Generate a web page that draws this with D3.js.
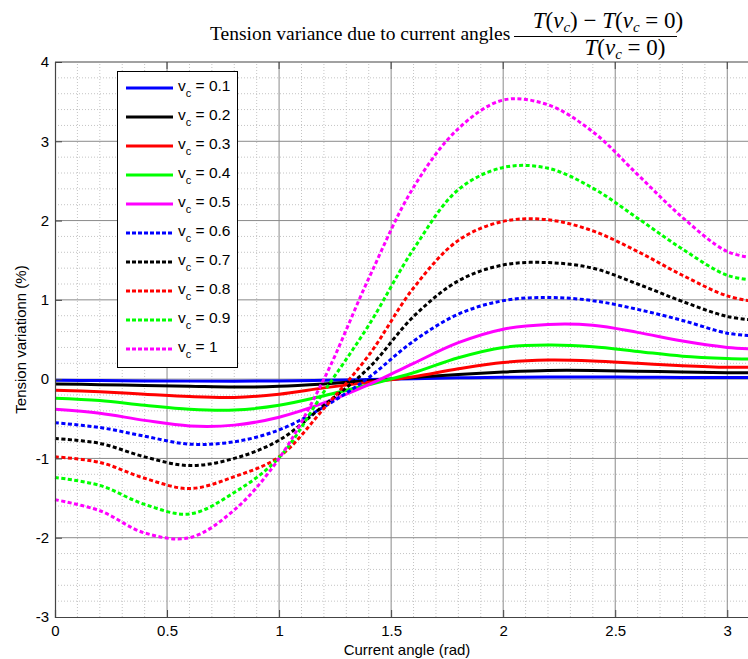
<!DOCTYPE html>
<html>
<head>
<meta charset="utf-8">
<script src="https://cdn.jsdelivr.net/npm/d3@7"></script>
<style>
  body { margin: 0; background: #fff; }
</style>
</head>
<body>
<div id="chart"></div>
<script>
// angles (rad)
const angles = [0, 0.2, 0.4, 0.6, 0.8, 1.0, 1.2, 1.4, 1.6, 1.8, 2.0, 2.2, 2.4, 2.6, 2.8, 3.0, 3.1416];

// tension variation (%) per current speed
const vc01 = [-0.015, -0.018, -0.022, -0.025, -0.026, -0.022, -0.015, -0.005, 0.006, 0.016, 0.023, 0.027, 0.027, 0.025, 0.022, 0.02, 0.02];
const vc02 = [-0.06, -0.07, -0.08, -0.09, -0.10, -0.09, -0.06, -0.02, 0.02, 0.06, 0.09, 0.11, 0.11, 0.10, 0.09, 0.08, 0.08];
const vc03 = [-0.14, -0.16, -0.19, -0.22, -0.23, -0.19, -0.11, -0.04, 0.03, 0.13, 0.21, 0.24, 0.23, 0.20, 0.17, 0.15, 0.15];
const vc04 = [-0.24, -0.27, -0.33, -0.38, -0.39, -0.33, -0.21, -0.07, 0.08, 0.27, 0.40, 0.43, 0.41, 0.35, 0.29, 0.26, 0.25];
const vc05 = [-0.38, -0.43, -0.52, -0.59, -0.58, -0.48, -0.30, -0.07, 0.20, 0.46, 0.63, 0.69, 0.68, 0.59, 0.48, 0.40, 0.38];
const vc06 = [-0.55, -0.61, -0.72, -0.82, -0.79, -0.64, -0.35, 0.02, 0.48, 0.82, 0.99, 1.03, 0.99, 0.88, 0.74, 0.58, 0.54];
const vc07 = [-0.75, -0.81, -0.98, -1.09, -1.00, -0.77, -0.33, 0.14, 0.79, 1.24, 1.44, 1.47, 1.40, 1.20, 0.98, 0.79, 0.74];
const vc08 = [-0.98, -1.05, -1.25, -1.38, -1.23, -0.98, -0.37, 0.30, 1.15, 1.75, 1.99, 2.01, 1.87, 1.61, 1.31, 1.05, 0.97];
const vc09 = [-1.24, -1.34, -1.58, -1.70, -1.43, -0.99, -0.16, 0.68, 1.64, 2.39, 2.67, 2.66, 2.41, 2.03, 1.64, 1.31, 1.24];
const vc10 = [-1.52, -1.66, -1.94, -2.00, -1.65, -1.00, 0.00, 1.27, 2.42, 3.16, 3.52, 3.46, 3.12, 2.58, 2.04, 1.61, 1.52];

const seriesNames = ["0.1", "0.2", "0.3", "0.4", "0.5", "0.6", "0.7", "0.8", "0.9", "1"];
const seriesValues = [vc01, vc02, vc03, vc04, vc05, vc06, vc07, vc08, vc09, vc10];
const seriesColors = ["#0000ff", "#000000", "#ff0000", "#00ff00", "#ff00ff",
                      "#0000ff", "#000000", "#ff0000", "#00ff00", "#ff00ff"];

const xTicks = [0, 0.5, 1, 1.5, 2, 2.5, 3];
const yTicks = [-3, -2, -1, 0, 1, 2, 3, 4];

const width = 748, height = 659;
const margin = { top: 62, right: -11, bottom: 42, left: 55 };
const plotW = width - margin.left - margin.right;
const plotH = height - margin.top - margin.bottom;

const sans = "'Liberation Sans', Arial, sans-serif";
const serif = "'Liberation Serif', 'DejaVu Serif', serif";

const svg = d3.select("#chart")
  .append("svg")
  .attr("width", width)
  .attr("height", height)
  .attr("font-family", sans);

const x = d3.scaleLinear().domain([0, 3.1416]).range([margin.left, margin.left + plotW]);
const y = d3.scaleLinear().domain([-3, 4]).range([margin.top + plotH, margin.top]);

// minor grid
const grid = svg.append("g");
grid.selectAll(".mx")
  .data(d3.range(1, 32).map(i => i / 10).filter(v => Math.abs(v * 2 - Math.round(v * 2)) > 1e-6))
  .join("line")
  .attr("x1", d => x(d)).attr("x2", d => x(d))
  .attr("y1", y(-3)).attr("y2", y(4))
  .attr("stroke", "#c4c4c4").attr("stroke-width", 1).attr("stroke-dasharray", "1,2");
grid.selectAll(".my")
  .data(d3.range(-14, 20).map(i => i / 5).filter(v => Math.abs(v - Math.round(v)) > 1e-6))
  .join("line")
  .attr("x1", x(0)).attr("x2", x(3.1416))
  .attr("y1", d => y(d)).attr("y2", d => y(d))
  .attr("stroke", "#c4c4c4").attr("stroke-width", 1).attr("stroke-dasharray", "1,2");

// major grid
grid.selectAll(".gx")
  .data(xTicks.slice(1))
  .join("line")
  .attr("x1", d => x(d)).attr("x2", d => x(d))
  .attr("y1", y(-3)).attr("y2", y(4))
  .attr("stroke", "#8a8a8a").attr("stroke-width", 1);
grid.selectAll(".gy")
  .data(yTicks.slice(1, -1))
  .join("line")
  .attr("x1", x(0)).attr("x2", x(3.1416))
  .attr("y1", d => y(d)).attr("y2", d => y(d))
  .attr("stroke", "#8a8a8a").attr("stroke-width", 1);

// lines
const line = d3.line()
  .x((d, i) => x(angles[i]))
  .y(d => y(d))
  .curve(d3.curveCatmullRom.alpha(0.5));

svg.append("g")
  .selectAll("path")
  .data(seriesValues)
  .join("path")
  .attr("d", line)
  .attr("fill", "none")
  .attr("stroke", (d, i) => seriesColors[i])
  .attr("stroke-width", 3)
  .attr("stroke-dasharray", (d, i) => i >= 5 ? "4,2.5" : null);

// axes (plain hyphen for negatives, like the original)
const fmt = d => String(d);
const xAxis = svg.append("g")
  .attr("transform", `translate(0,${y(-3)})`)
  .call(d3.axisBottom(x).tickValues(xTicks).tickFormat(fmt).tickSize(-7).tickPadding(8));
const yAxis = svg.append("g")
  .attr("transform", `translate(${x(0)},0)`)
  .call(d3.axisLeft(y).tickValues(yTicks).tickFormat(fmt).tickSize(-7).tickPadding(6));
[xAxis, yAxis].forEach(a => {
  a.select(".domain").attr("stroke", "#444").attr("stroke-width", 1.2);
  a.selectAll(".tick line").attr("stroke", "#444");
  a.selectAll("text").attr("font-size", 15).attr("fill", "#000")
    .attr("font-family", sans);
});
// top border
svg.append("line")
  .attr("x1", x(0)).attr("x2", x(3.1416))
  .attr("y1", y(4)).attr("y2", y(4))
  .attr("stroke", "#444").attr("stroke-width", 1.2);
svg.append("g").selectAll("line")
  .data(xTicks.slice(1))
  .join("line")
  .attr("x1", d => x(d)).attr("x2", d => x(d))
  .attr("y1", y(4)).attr("y2", y(4) + 7)
  .attr("stroke", "#444");

// axis labels
svg.append("text")
  .attr("x", (x(0) + x(3.1416)) / 2)
  .attr("y", 655)
  .attr("text-anchor", "middle")
  .attr("font-size", 15)
  .text("Current angle (rad)");
svg.append("text")
  .attr("transform", `translate(26,${(y(4) + y(-3)) / 2}) rotate(-90)`)
  .attr("text-anchor", "middle")
  .attr("font-size", 15)
  .text("Tension variationn (%)");

// title
svg.append("text")
  .attr("x", 210).attr("y", 40)
  .attr("font-family", serif).attr("font-size", 19.5)
  .text("Tension variance due to current angles");

function addMath(sel, parts) {
  parts.forEach(p => {
    const t = sel.append("tspan").text(p.t);
    if (p.i) t.attr("font-style", "italic");
    if (p.sub) t.attr("font-size", 15).attr("dy", 4);
    if (p.up) t.attr("dy", -4);
  });
}
const num = svg.append("text")
  .attr("x", 608).attr("y", 28)
  .attr("text-anchor", "middle")
  .attr("font-family", serif).attr("font-size", 23);
addMath(num, [
  { t: "T", i: true }, { t: "(" }, { t: "v", i: true }, { t: "c", i: true, sub: true },
  { t: ") \u2212 ", up: true }, { t: "T", i: true }, { t: "(" }, { t: "v", i: true },
  { t: "c", i: true, sub: true }, { t: " = 0)", up: true }
]);
svg.append("line")
  .attr("x1", 514).attr("x2", 677)
  .attr("y1", 36.5).attr("y2", 36.5)
  .attr("stroke", "#000").attr("stroke-width", 1);
const den = svg.append("text")
  .attr("x", 625).attr("y", 55)
  .attr("text-anchor", "middle")
  .attr("font-family", serif).attr("font-size", 23);
addMath(den, [
  { t: "T", i: true }, { t: "(" }, { t: "v", i: true }, { t: "c", i: true, sub: true },
  { t: " = 0)", up: true }
]);

// legend
const legend = svg.append("g");
legend.append("rect")
  .attr("x", 117.5).attr("y", 71.5)
  .attr("width", 120).attr("height", 296)
  .attr("fill", "#fff").attr("stroke", "#000").attr("stroke-width", 1);

const rows = legend.selectAll(".row")
  .data(seriesNames)
  .join("g")
  .attr("transform", (d, i) => `translate(0,${88 + i * 29})`);
rows.append("line")
  .attr("x1", 126).attr("x2", 173)
  .attr("stroke", (d, i) => seriesColors[i])
  .attr("stroke-width", 3)
  .attr("stroke-dasharray", (d, i) => i >= 5 ? "4,2" : null);
const lt = rows.append("text")
  .attr("x", 178).attr("y", 3)
  .attr("font-size", 15.5);
lt.append("tspan").text("v");
lt.append("tspan").attr("font-size", 11).attr("dy", 6).text("c");
lt.append("tspan").attr("dy", -6).text(d => " = " + d);
</script>
</body>
</html>
